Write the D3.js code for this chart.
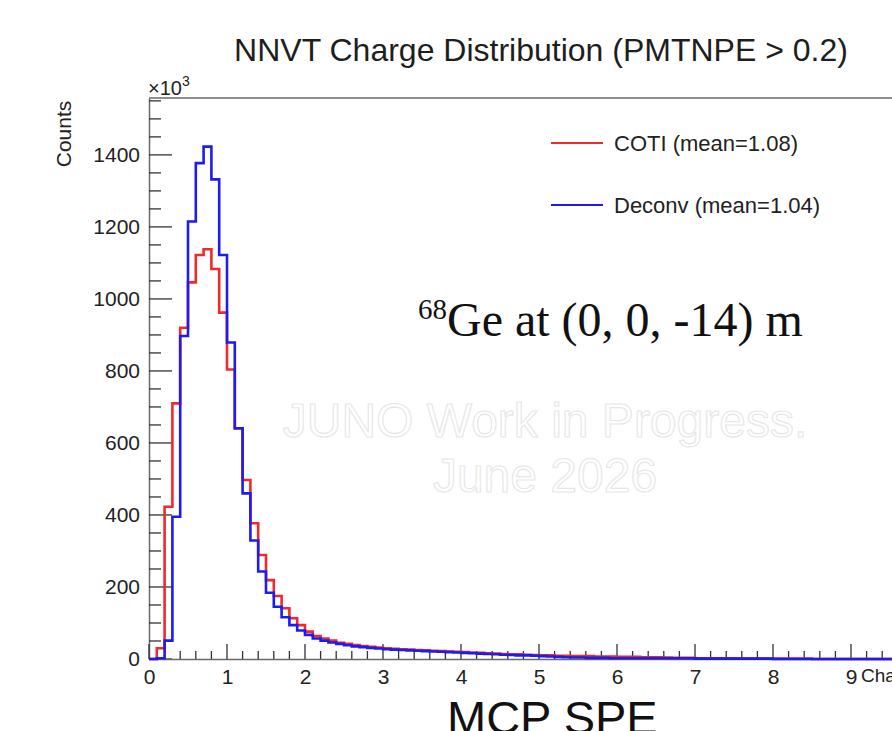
<!DOCTYPE html>
<html>
<head>
<meta charset="utf-8">
<script src="https://d3js.org/d3.v7.min.js"></script>
<style>
  body { margin: 0; background: #fff; }
  svg { display: block; font-family: "Liberation Sans", Arial, sans-serif; }
</style>
</head>
<body>
<div id="chart"></div>
<script>
// bins of 0.1 charge units, counts in thousands
var binWidth = 0.1;

var cotiCounts = [
    0, 30, 423, 710, 920, 1046, 1122, 1138, 1083, 962,
    804, 640, 497, 377, 289, 219, 175, 141, 113, 94,
    76, 64, 57, 51, 45, 42, 39, 36, 34, 32,
    30, 28, 27, 26, 25, 24, 23, 22, 21, 20,
    19, 18, 17, 16, 15, 14, 13, 13, 12, 11,
    10, 10, 9, 9, 8, 8, 8, 7, 7, 7,
    6, 6, 6, 5, 5, 5, 4, 3, 3, 3,
    2, 2, 2, 2, 2, 1, 1, 1, 1, 1,
    1, 1, 1, 1, 1, 0, 0, 0, 0, 0,
    0, 0, 0, 0, 0, 0, 0, 0, 0, 0
];

var deconvCounts = [
    0, 2, 51, 395, 897, 1215, 1377, 1423, 1332, 1122,
    879, 641, 460, 329, 243, 184, 145, 116, 94, 79,
    67, 57, 51, 46, 42, 38, 35, 33, 31, 29,
    27, 26, 25, 24, 23, 22, 21, 20, 19, 18,
    17, 16, 15, 14, 13, 12, 11, 10, 10, 9,
    8, 7, 6, 5, 4, 4, 3, 3, 3, 2,
    2, 2, 2, 2, 2, 2, 2, 2, 2, 2,
    1, 1, 1, 1, 1, 1, 1, 1, 1, 1,
    0, 0, 0, 0, 0, 0, 0, 0, 0, 0,
    0, 0, 0, 0, 0, 0, 0, 0, 0, 0
];

var seriesNames = ["COTI (mean=1.08)", "Deconv (mean=1.04)"];
var seriesColors = ["#ee2a2a", "#1c1cf0"];

var yTickValues = [0, 200, 400, 600, 800, 1000, 1200, 1400];
var xTickValues = [0, 1, 2, 3, 4, 5, 6, 7, 8, 9];

var svgWidth = 892;
var svgHeight = 731;

// plot frame (right side runs past the window like in the picture)
var frame = { left: 149, top: 98, right: 929, bottom: 659 };

var svg = d3.select("#chart")
    .append("svg")
    .attr("width", svgWidth)
    .attr("height", svgHeight);

var xScale = d3.scaleLinear()
    .domain([0, 10])
    .range([frame.left, frame.right]);

var yScale = d3.scaleLinear()
    .domain([0, 1558])
    .range([frame.bottom, frame.top]);

// title
svg.append("text")
    .attr("x", 541)
    .attr("y", 61)
    .attr("text-anchor", "middle")
    .attr("font-size", 32)
    .attr("fill", "#1e1e1e")
    .text("NNVT Charge Distribution (PMTNPE > 0.2)");

// watermark, outlined light text
var mark = svg.append("g")
    .attr("fill", "#fff")
    .attr("stroke", "#e6e6e6")
    .attr("stroke-width", 1.1)
    .attr("font-size", 48)
    .attr("text-anchor", "middle");
mark.append("text").attr("x", 545).attr("y", 437).text("JUNO Work in Progress.");
mark.append("text").attr("x", 545).attr("y", 492).text("June 2026");

// frame top line
svg.append("line")
    .attr("x1", frame.left).attr("x2", frame.right)
    .attr("y1", frame.top).attr("y2", frame.top)
    .attr("stroke", "#6a6a6a")
    .attr("stroke-width", 1.5);

// y axis with ROOT style ticks
var leftAxis = d3.axisLeft(yScale)
    .tickValues(yTickValues)
    .tickSize(0)
    .tickPadding(9)
    .tickFormat(d3.format("d"));

var yAxisG = svg.append("g")
    .attr("transform", `translate(${frame.left}, 0)`)
    .call(leftAxis);
yAxisG.select(".domain").attr("stroke", "#6a6a6a").attr("stroke-width", 1.5);
yAxisG.selectAll("text")
    .attr("font-size", 21)
    .attr("fill", "#222")
    .attr("font-family", "Liberation Sans, Arial, sans-serif");

var yMinor = d3.range(0, 1558, 50);
svg.append("g").selectAll("line")
    .data(yMinor)
    .enter()
    .append("line")
    .attr("x1", frame.left)
    .attr("x2", d => frame.left + (d % 200 === 0 ? 23 : 12))
    .attr("y1", d => yScale(d))
    .attr("y2", d => yScale(d))
    .attr("stroke", "#333")
    .attr("stroke-width", 1.3);

// x axis
var bottomAxis = d3.axisBottom(xScale)
    .tickValues(xTickValues)
    .tickSize(0)
    .tickPadding(10)
    .tickFormat(d3.format("d"));

var xAxisG = svg.append("g")
    .attr("transform", `translate(0, ${frame.bottom})`)
    .call(bottomAxis);
xAxisG.select(".domain").attr("stroke", "#6a6a6a").attr("stroke-width", 1.5);
xAxisG.selectAll("text")
    .attr("font-size", 21)
    .attr("fill", "#222")
    .attr("font-family", "Liberation Sans, Arial, sans-serif");

var xMinor = d3.range(0, 50).map(i => i * 0.2);
svg.append("g").selectAll("line")
    .data(xMinor)
    .enter()
    .append("line")
    .attr("x1", d => xScale(d))
    .attr("x2", d => xScale(d))
    .attr("y1", frame.bottom)
    .attr("y2", (d, i) => frame.bottom - (i % 5 === 0 ? 15 : 8))
    .attr("stroke", "#333")
    .attr("stroke-width", 1.3);

// axis titles
svg.append("text")
    .attr("transform", "translate(71, 134) rotate(-90)")
    .attr("text-anchor", "middle")
    .attr("font-size", 21)
    .attr("fill", "#222")
    .text("Counts");

svg.append("text")
    .attr("x", 861)
    .attr("y", 682)
    .attr("font-size", 19)
    .attr("fill", "#222")
    .text("Charge");

var expo = svg.append("text")
    .attr("x", 148)
    .attr("y", 95)
    .attr("font-size", 20)
    .attr("fill", "#222");
expo.append("tspan").text("\u00d710");
expo.append("tspan").attr("dy", -9).attr("font-size", 14).text("3");

// histogram step lines
function stepPath(counts) {
    var pts = [[0, 0]];
    counts.forEach(function (c, i) {
        pts.push([i * binWidth, c]);
        pts.push([(i + 1) * binWidth, c]);
    });
    pts.push([counts.length * binWidth, 0]);
    return d3.line()
        .x(d => xScale(d[0]))
        .y(d => yScale(d[1]))(pts);
}

[cotiCounts, deconvCounts].forEach(function (counts, i) {
    svg.append("path")
        .attr("d", stepPath(counts))
        .attr("fill", "none")
        .attr("stroke", seriesColors[i])
        .attr("stroke-width", 2.6)
        .attr("stroke-linejoin", "miter");
});

// legend
var legendY = [143, 205];
seriesNames.forEach(function (name, i) {
    svg.append("line")
        .attr("x1", 551).attr("x2", 603)
        .attr("y1", legendY[i]).attr("y2", legendY[i])
        .attr("stroke", seriesColors[i])
        .attr("stroke-width", 2.2);
    svg.append("text")
        .attr("x", 614)
        .attr("y", legendY[i] + 8)
        .attr("font-size", 22)
        .attr("fill", "#222")
        .text(name);
});

// source annotation
var ge = svg.append("text")
    .attr("x", 418)
    .attr("y", 336)
    .attr("font-family", "Liberation Serif, Times New Roman, serif")
    .attr("font-size", 48)
    .attr("fill", "#111");
ge.append("tspan").attr("font-size", 29).attr("dy", -17).text("68");
ge.append("tspan").attr("dy", 17).text("Ge at (0, 0, -14) m");

// caption under the plot
svg.append("text")
    .attr("x", 447)
    .attr("y", 734)
    .attr("font-size", 47)
    .attr("fill", "#111")
    .text("MCP SPE");
</script>
</body>
</html>
